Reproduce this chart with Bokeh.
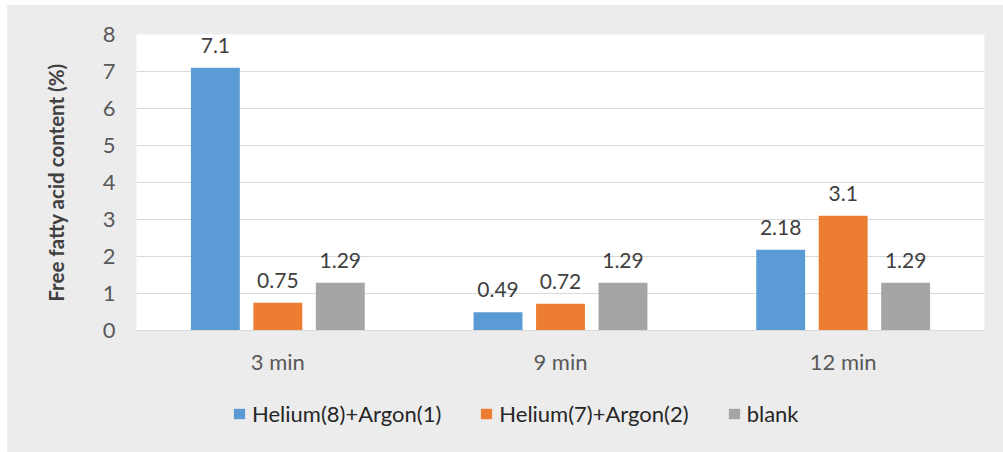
from bokeh.plotting import figure
from bokeh.layouts import column
from bokeh.models import ColumnDataSource, LabelSet, Legend, LegendItem, FactorRange, FixedTicker
from bokeh.transform import dodge
from bokeh.core.properties import value
from bokeh.embed import file_html
from bokeh.resources import INLINE

categories = ["3 min", "9 min", "12 min"]
series_names = ["Helium(8)+Argon(1)", "Helium(7)+Argon(2)", "blank"]
helium8_argon1 = [7.1, 0.49, 2.18]
helium7_argon2 = [0.75, 0.72, 3.1]
blank = [1.29, 1.29, 1.29]
y_ticks = [0, 1, 2, 3, 4, 5, 6, 7, 8]

colors = ["#5b9bd5", "#ed7d31", "#a5a5a5"]
offsets = [-0.221, 0.0, 0.221]
bar_width = 0.173
FONT = "Lato"
BG = "#ececec"

source = ColumnDataSource(data=dict(
    cat=categories,
    s0=helium8_argon1,
    s1=helium7_argon2,
    s2=blank,
    l0=[str(v) for v in helium8_argon1],
    l1=[str(v) for v in helium7_argon2],
    l2=[str(v) for v in blank],
))

p = figure(x_range=FactorRange(*categories), y_range=(0, 8),
           frame_width=848, frame_height=296, output_backend="svg", toolbar_location=None,
           min_border_left=129, min_border_right=19, min_border_top=29, min_border_bottom=45)

p.background_fill_color = "white"
p.border_fill_color = BG
p.outline_line_color = None

for i, key in enumerate(["s0", "s1", "s2"]):
    p.vbar(x=dodge("cat", offsets[i], range=p.x_range), top=key, width=bar_width,
           source=source, fill_color=colors[i], line_color=None)
    lbl = LabelSet(x=dodge("cat", offsets[i], range=p.x_range), y=key, text="l%d" % i,
                   source=source, text_align="center", text_baseline="bottom", y_offset=15,
                   text_font=value(FONT), text_font_size=value("21px"), text_color="#404040")
    p.add_layout(lbl)

# axes
p.yaxis.ticker = FixedTicker(ticks=y_ticks)
p.yaxis.axis_line_color = None
p.yaxis.major_tick_line_color = None
p.yaxis.minor_tick_line_color = None
p.yaxis.major_tick_out = 0
p.yaxis.major_label_standoff = 21
p.yaxis.major_label_text_font = FONT
p.yaxis.major_label_text_font_size = "22px"
p.yaxis.major_label_text_color = "#595959"
p.yaxis.axis_label = "Free fatty acid content (%)"
p.yaxis.axis_label_text_font = FONT
p.yaxis.axis_label_text_font_size = "20.5px"
p.yaxis.axis_label_text_font_style = "bold"
p.yaxis.axis_label_text_color = "#404040"
p.yaxis.axis_label_standoff = 32

p.xaxis.axis_line_color = "#d9d9d9"
p.xaxis.axis_line_width = 1
p.xaxis.major_tick_line_color = None
p.xaxis.minor_tick_line_color = None
p.xaxis.major_tick_out = 0
p.xaxis.major_label_standoff = 17
p.xaxis.major_label_text_font = FONT
p.xaxis.major_label_text_font_size = "22px"
p.xaxis.major_label_text_color = "#595959"

p.xgrid.grid_line_color = None
p.ygrid.grid_line_color = "#d9d9d9"
p.ygrid.grid_line_width = 1

# legend strip below the chart (same frame alignment as the chart)
q = figure(frame_width=848, frame_height=77, x_range=(0, 1), y_range=(0, 1),
           output_backend="svg", toolbar_location=None,
           x_axis_location=None, y_axis_location=None,
           min_border_left=129, min_border_right=19, min_border_top=0, min_border_bottom=0)
q.background_fill_alpha = 0
q.border_fill_color = BG
q.outline_line_color = None
q.grid.grid_line_color = None

# zero-height proxy bars, only used to draw the legend swatches
legend_renderers = [q.vbar(x=[0.5], top=[0], bottom=[0], width=0.01,
                           fill_color=colors[i], line_color=None)
                    for i in range(3)]

legend = Legend(items=[LegendItem(label=series_names[i], renderers=[legend_renderers[i]]) for i in range(3)],
                orientation="horizontal", location=(96, 27),
                background_fill_alpha=0, border_line_color=None,
                padding=0, margin=0, spacing=38, label_standoff=6,
                glyph_width=14, glyph_height=13,
                label_text_font=FONT, label_text_font_size="22px", label_text_color="#262626")
q.add_layout(legend, "center")

layout = column(p, q, spacing=0, margin=(5, 0, 0, 7), styles={"background-color": BG})
open("out.html", "w").write(file_html(layout, INLINE))
